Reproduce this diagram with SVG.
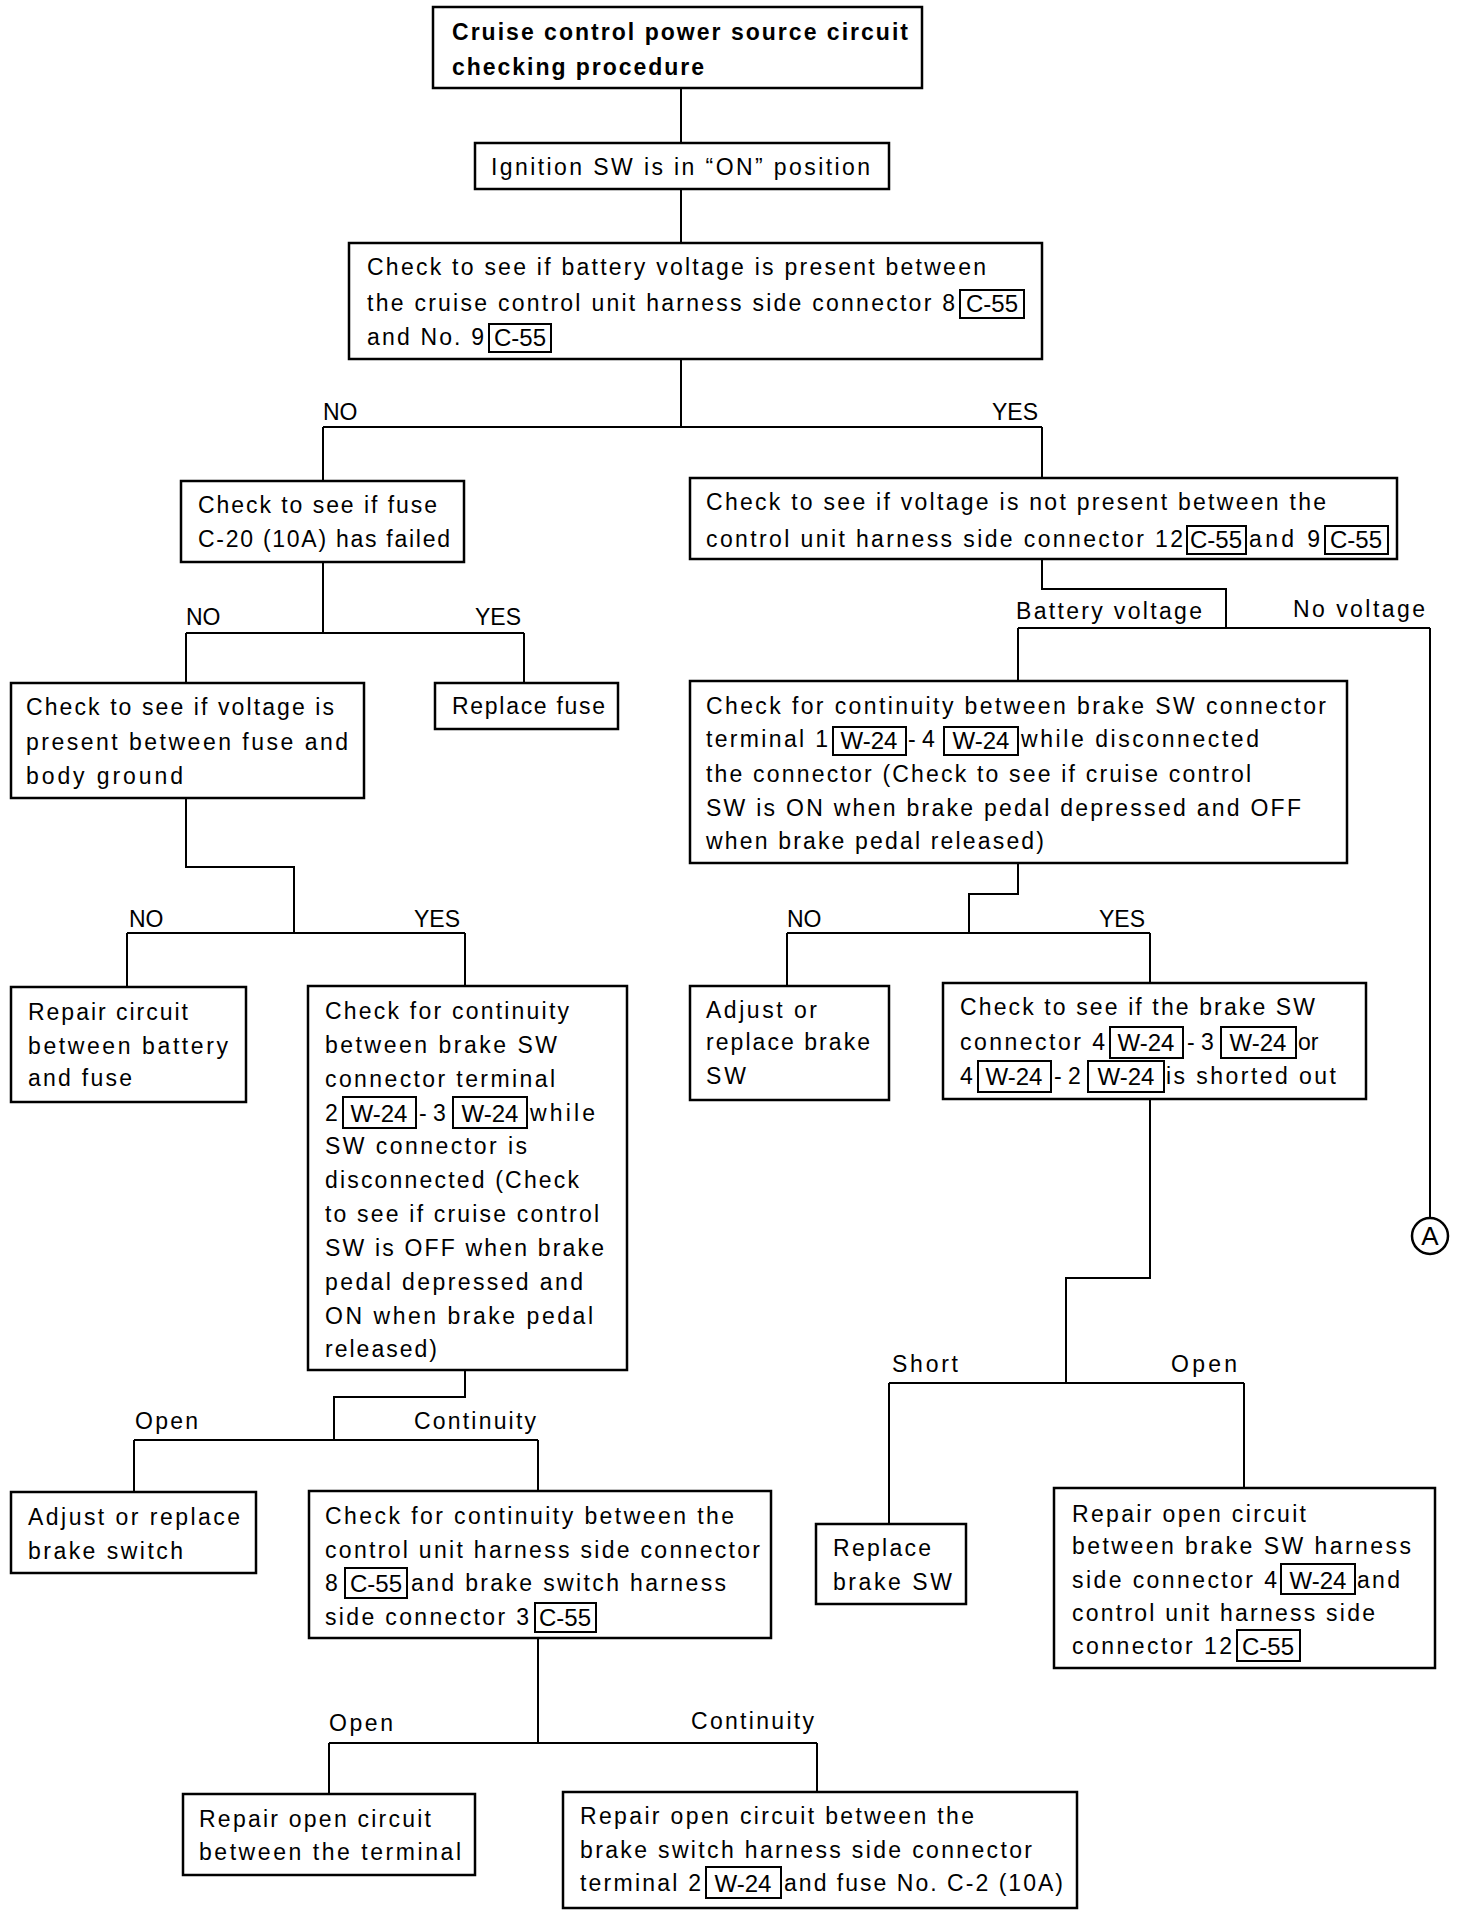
<svg xmlns="http://www.w3.org/2000/svg" width="1472" height="1916" viewBox="0 0 1472 1916">
<style>
.bx{fill:#fff;stroke:#000;stroke-width:2.5}
.tag{fill:none;stroke:#000;stroke-width:2}
text{font-family:"Liberation Sans",Arial,sans-serif;font-size:23px;fill:#000}
.b{font-weight:bold}
.tt{font-size:24px;text-anchor:middle}
.lbl{font-size:23px}
#connectors path{fill:none;stroke:#000;stroke-width:2}
</style>
<rect width="1472" height="1916" fill="#fff"/>
<g id="connectors">
<path d="M681,88 V143"/>
<path d="M681,189 V243"/>
<path d="M681,359 V427 M323,427 H1042 M323,427 V481 M1042,427 V478"/>
<path d="M323,562 V633 M186,633 H524 M186,633 V683 M524,633 V683"/>
<path d="M1042,559 V589 H1226 V628 M1018,628 H1430 M1018,628 V681 M1430,628 V1218"/>
<path d="M186,798 V867 H294 V933 M127,933 H465 M127,933 V987 M465,933 V986"/>
<path d="M1018,863 V894 H969 V933 M787,933 H1150 M787,933 V986 M1150,933 V983"/>
<path d="M1150,1099 V1278 H1066 V1383 M889,1383 H1244 M889,1383 V1524 M1244,1383 V1488"/>
<path d="M465,1370 V1397 H334 V1440 M134,1440 H538 M134,1440 V1492 M538,1440 V1491"/>
<path d="M538,1638 V1743 M329,1743 H817 M329,1743 V1794 M817,1743 V1792"/>
</g>
<g id="labels">
<text class="lbl" x="323" y="420">NO</text>
<text class="lbl" x="992" y="420">YES</text>
<text class="lbl" x="186" y="625">NO</text>
<text class="lbl" x="475" y="625">YES</text>
<text class="lbl" x="1016" y="619" textLength="186">Battery voltage</text>
<text class="lbl" x="1293" y="617" textLength="132">No voltage</text>
<text class="lbl" x="129" y="927">NO</text>
<text class="lbl" x="414" y="927">YES</text>
<text class="lbl" x="787" y="927">NO</text>
<text class="lbl" x="1099" y="927">YES</text>
<text class="lbl" x="892" y="1372" textLength="66">Short</text>
<text class="lbl" x="1171" y="1372" textLength="66">Open</text>
<text class="lbl" x="135" y="1429" textLength="63">Open</text>
<text class="lbl" x="414" y="1429" textLength="122">Continuity</text>
<text class="lbl" x="329" y="1731" textLength="64">Open</text>
<text class="lbl" x="691" y="1729" textLength="123">Continuity</text>
</g>
<g id="n1">
<rect class="bx" x="433" y="7" width="489" height="81"/>
<text class="b" x="452" y="40" textLength="456">Cruise control power source circuit</text>
<text class="b" x="452" y="75" textLength="252">checking procedure</text>
</g>
<g id="n2">
<rect class="bx" x="475" y="143" width="414" height="46"/>
<text x="491" y="175" textLength="379">Ignition SW is in “ON” position</text>
</g>
<g id="n3">
<rect class="bx" x="349" y="243" width="693" height="116"/>
<text x="367" y="275" textLength="619">Check to see if battery voltage is present between</text>
<text x="367" y="311" textLength="588">the cruise control unit harness side connector 8</text>
<rect class="tag" x="960" y="290" width="64" height="28"/><text class="tt" x="992" y="312">C-55</text>
<text x="367" y="345" textLength="117">and No. 9</text>
<rect class="tag" x="489" y="324" width="62" height="28"/><text class="tt" x="520" y="346">C-55</text>
</g>
<g id="n4">
<rect class="bx" x="181" y="481" width="283" height="81"/>
<text x="198" y="513" textLength="239">Check to see if fuse</text>
<text x="198" y="547" textLength="252">C-20 (10A) has failed</text>
</g>
<g id="n5">
<rect class="bx" x="690" y="478" width="707" height="81"/>
<text x="706" y="510" textLength="620">Check to see if voltage is not present between the</text>
<text x="706" y="547" textLength="477">control unit harness side connector 12</text>
<rect class="tag" x="1187" y="526" width="59" height="28"/><text class="tt" x="1216" y="548">C-55</text>
<text x="1249" y="547" textLength="71">and 9</text>
<rect class="tag" x="1325" y="526" width="63" height="28"/><text class="tt" x="1356" y="548">C-55</text>
</g>
<g id="n6">
<rect class="bx" x="435" y="683" width="183" height="46"/>
<text x="452" y="714" textLength="153">Replace fuse</text>
</g>
<g id="n7">
<rect class="bx" x="11" y="683" width="353" height="115"/>
<text x="26" y="715" textLength="308">Check to see if voltage is</text>
<text x="26" y="750" textLength="322">present between fuse and</text>
<text x="26" y="784" textLength="157">body ground</text>
</g>
<g id="n8">
<rect class="bx" x="690" y="681" width="657" height="182"/>
<text x="706" y="714" textLength="620">Check for continuity between brake SW connector</text>
<text x="706" y="747" textLength="122">terminal 1</text>
<rect class="tag" x="833" y="727" width="73" height="28"/><text class="tt" x="869" y="749">W-24</text>
<text x="908" y="747">- 4</text>
<rect class="tag" x="944" y="727" width="74" height="28"/><text class="tt" x="981" y="749">W-24</text>
<text x="1021" y="747" textLength="238">while disconnected</text>
<text x="706" y="782" textLength="545">the connector (Check to see if cruise control</text>
<text x="706" y="816" textLength="595">SW is ON when brake pedal depressed and OFF</text>
<text x="706" y="849" textLength="338">when brake pedal released)</text>
</g>
<g id="n9">
<rect class="bx" x="11" y="987" width="235" height="115"/>
<text x="28" y="1020" textLength="160">Repair circuit</text>
<text x="28" y="1054" textLength="200">between battery</text>
<text x="28" y="1086" textLength="104">and fuse</text>
</g>
<g id="n10">
<rect class="bx" x="308" y="986" width="319" height="384"/>
<text x="325" y="1019" textLength="244">Check for continuity</text>
<text x="325" y="1053" textLength="232">between brake SW</text>
<text x="325" y="1087" textLength="230">connector terminal</text>
<text x="325" y="1121">2</text>
<rect class="tag" x="343" y="1097" width="73" height="31"/><text class="tt" x="379" y="1122">W-24</text>
<text x="419" y="1121">- 3</text>
<rect class="tag" x="453" y="1097" width="74" height="31"/><text class="tt" x="490" y="1122">W-24</text>
<text x="530" y="1121" textLength="65">while</text>
<text x="325" y="1154" textLength="202">SW connector is</text>
<text x="325" y="1188" textLength="254">disconnected (Check</text>
<text x="325" y="1222" textLength="274">to see if cruise control</text>
<text x="325" y="1256" textLength="279">SW is OFF when brake</text>
<text x="325" y="1290" textLength="258">pedal depressed and</text>
<text x="325" y="1324" textLength="268">ON when brake pedal</text>
<text x="325" y="1357" textLength="112">released)</text>
</g>
<g id="n11">
<rect class="bx" x="690" y="986" width="199" height="114"/>
<text x="706" y="1018" textLength="111">Adjust or</text>
<text x="706" y="1050" textLength="164">replace brake</text>
<text x="706" y="1084" textLength="40">SW</text>
</g>
<g id="n12">
<rect class="bx" x="943" y="983" width="423" height="116"/>
<text x="960" y="1015" textLength="355">Check to see if the brake SW</text>
<text x="960" y="1050" textLength="145">connector 4</text>
<rect class="tag" x="1110" y="1027" width="73" height="31"/><text class="tt" x="1146" y="1051">W-24</text>
<text x="1187" y="1050">- 3</text>
<rect class="tag" x="1221" y="1027" width="75" height="31"/><text class="tt" x="1258" y="1051">W-24</text>
<text x="1298" y="1050">or</text>
<text x="960" y="1084">4</text>
<rect class="tag" x="978" y="1061" width="73" height="31"/><text class="tt" x="1014" y="1085">W-24</text>
<text x="1054" y="1084">- 2</text>
<rect class="tag" x="1088" y="1061" width="76" height="31"/><text class="tt" x="1126" y="1085">W-24</text>
<text x="1166" y="1084" textLength="170">is shorted out</text>
</g>
<g id="nA">
<circle cx="1430" cy="1236" r="18" fill="#fff" stroke="#000" stroke-width="2.5"/>
<text x="1430" y="1245" text-anchor="middle" style="font-size:26px">A</text>
</g>
<g id="n13">
<rect class="bx" x="11" y="1492" width="245" height="81"/>
<text x="28" y="1525" textLength="212">Adjust or replace</text>
<text x="28" y="1559" textLength="155">brake switch</text>
</g>
<g id="n14">
<rect class="bx" x="309" y="1491" width="462" height="147"/>
<text x="325" y="1524" textLength="409">Check for continuity between the</text>
<text x="325" y="1558" textLength="435">control unit harness side connector</text>
<text x="325" y="1591">8</text>
<rect class="tag" x="345" y="1568" width="62" height="30"/><text class="tt" x="376" y="1592">C-55</text>
<text x="411" y="1591" textLength="315">and brake switch harness</text>
<text x="325" y="1625" textLength="204">side connector 3</text>
<rect class="tag" x="535" y="1603" width="61" height="29"/><text class="tt" x="565" y="1626">C-55</text>
</g>
<g id="n15">
<rect class="bx" x="816" y="1524" width="150" height="80"/>
<text x="833" y="1556" textLength="98">Replace</text>
<text x="833" y="1590" textLength="119">brake SW</text>
</g>
<g id="n16">
<rect class="bx" x="1054" y="1488" width="381" height="180"/>
<text x="1072" y="1522" textLength="234">Repair open circuit</text>
<text x="1072" y="1554" textLength="339">between brake SW harness</text>
<text x="1072" y="1588" textLength="205">side connector 4</text>
<rect class="tag" x="1281" y="1564" width="74" height="30"/><text class="tt" x="1318" y="1589">W-24</text>
<text x="1357" y="1588" textLength="43">and</text>
<text x="1072" y="1621" textLength="303">control unit harness side</text>
<text x="1072" y="1654" textLength="160">connector 12</text>
<rect class="tag" x="1237" y="1630" width="63" height="31"/><text class="tt" x="1268" y="1655">C-55</text>
</g>
<g id="n17">
<rect class="bx" x="183" y="1794" width="292" height="81"/>
<text x="199" y="1827" textLength="232">Repair open circuit</text>
<text x="199" y="1860" textLength="262">between the terminal</text>
</g>
<g id="n18">
<rect class="bx" x="563" y="1792" width="514" height="116"/>
<text x="580" y="1824" textLength="394">Repair open circuit between the</text>
<text x="580" y="1858" textLength="452">brake switch harness side connector</text>
<text x="580" y="1891" textLength="121">terminal 2</text>
<rect class="tag" x="706" y="1867" width="75" height="31"/><text class="tt" x="743" y="1892">W-24</text>
<text x="784" y="1891" textLength="279">and fuse No. C-2 (10A)</text>
</g>
</svg>
